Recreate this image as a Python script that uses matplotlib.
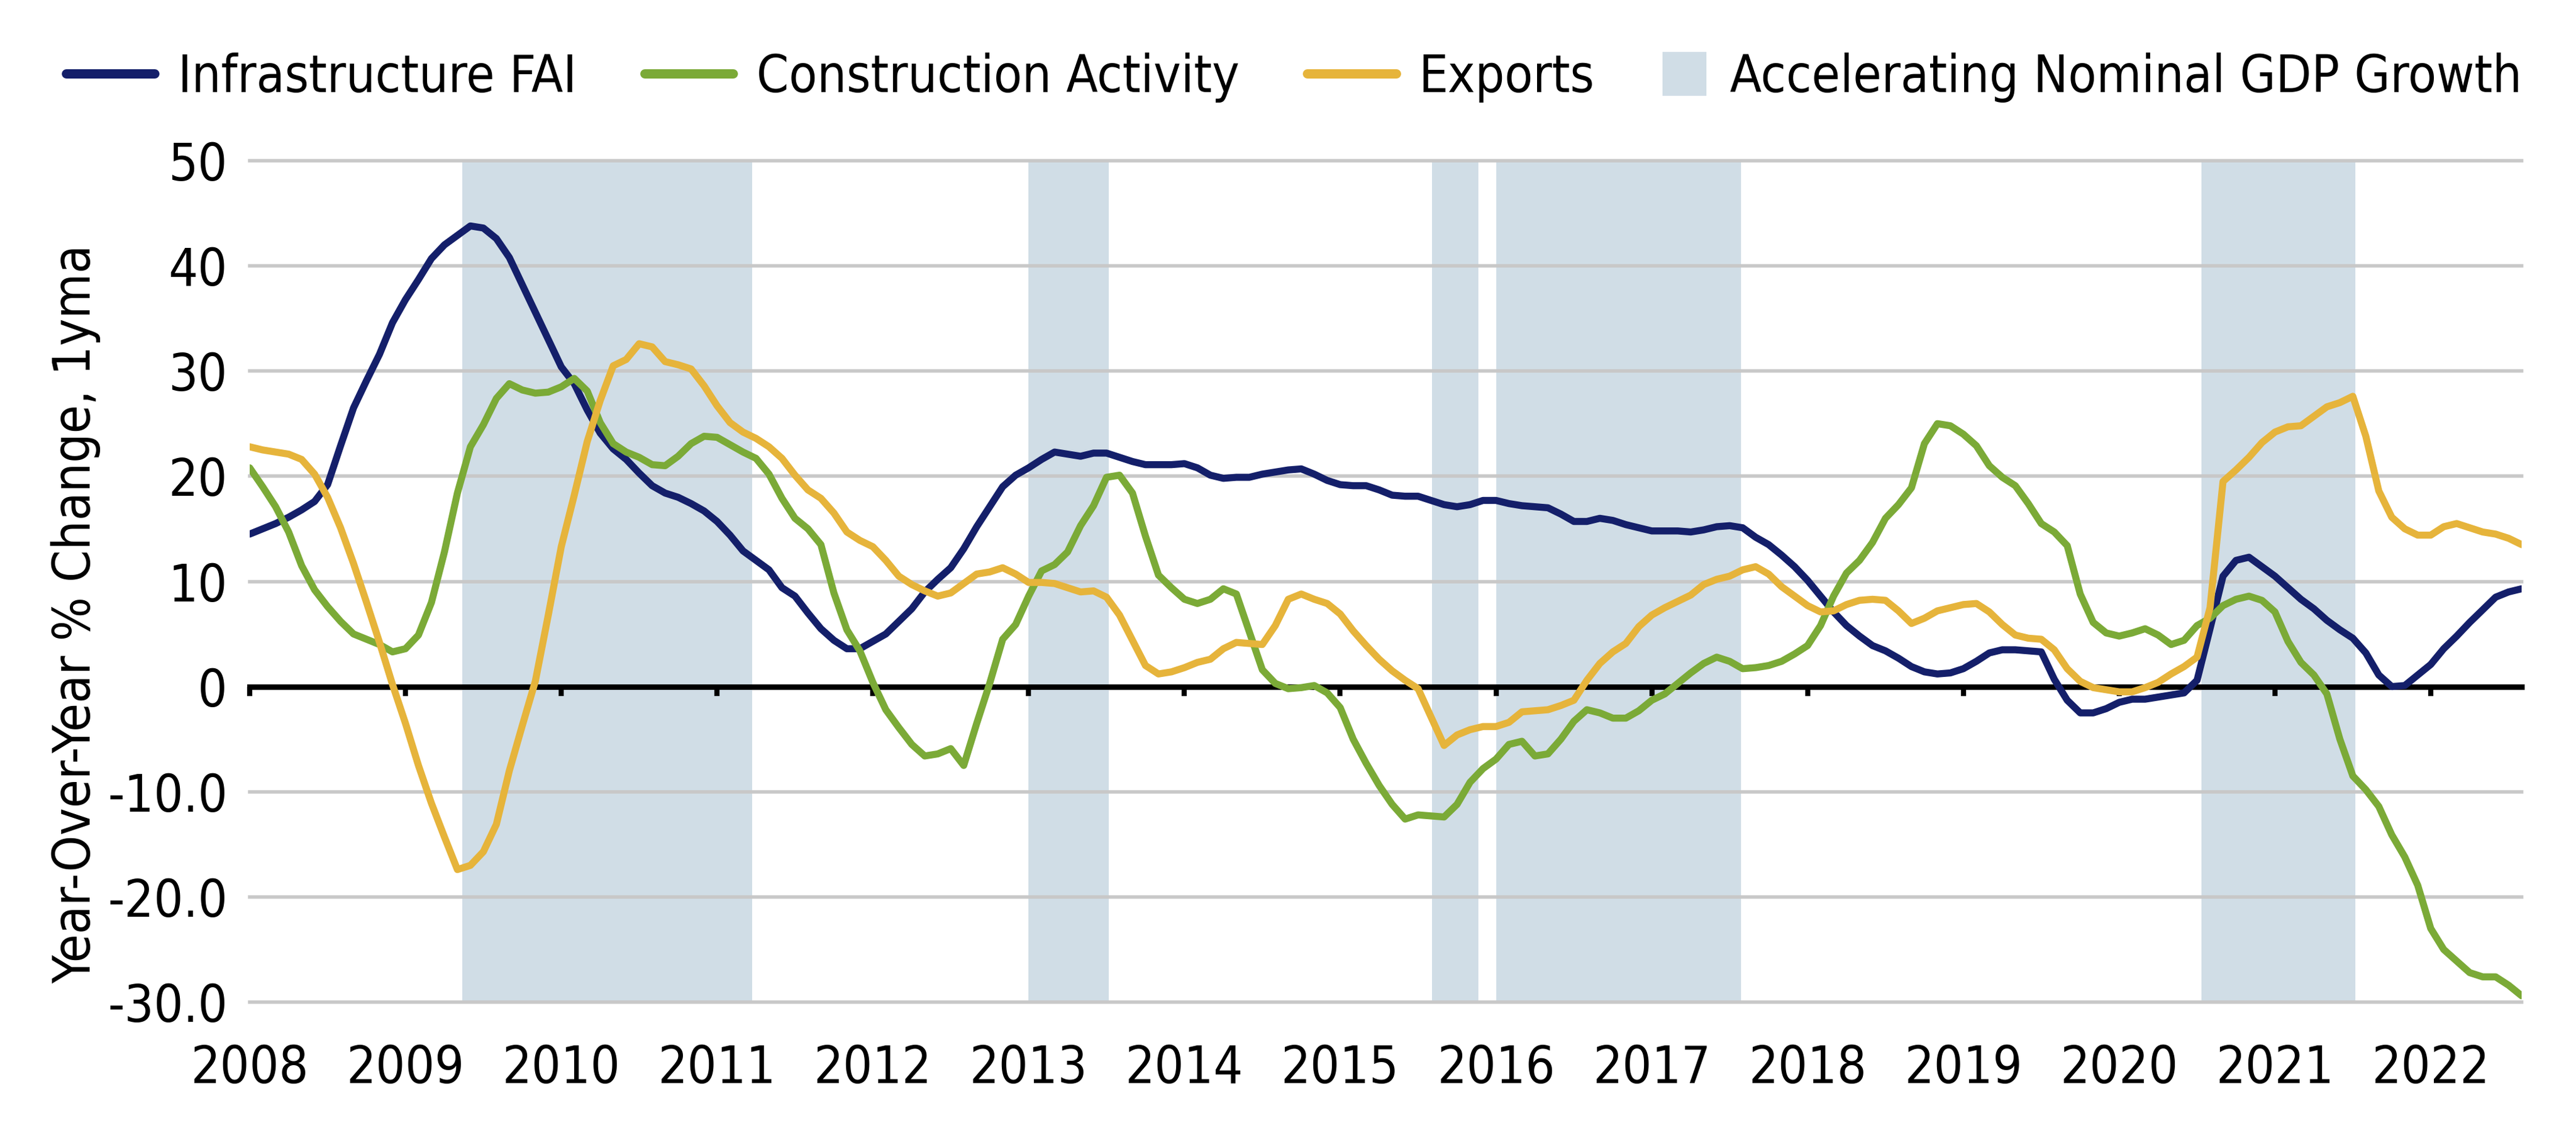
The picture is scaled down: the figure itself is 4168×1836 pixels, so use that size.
import numpy as np
import matplotlib.pyplot as plt
from matplotlib import font_manager as fm
from matplotlib.lines import Line2D
from matplotlib.patches import Patch, Rectangle

# look for a narrow / condensed sans face, the reference uses one
narrow = [f for f in fm.fontManager.ttflist
          if ('Narrow' in f.name or 'Condensed' in f.name or 'condensed' in str(f.stretch))
          and f.weight in (400, 'normal', 'regular') and f.style == 'normal']
if narrow:
    plt.rcParams['font.family'] = [narrow[0].name, 'DejaVu Sans']
    plt.rcParams['font.stretch'] = narrow[0].stretch
    fs = 30
else:
    plt.rcParams['font.family'] = ['DejaVu Sans']
    fs = 27

# monthly values, Jan 2008 .. Aug 2022 (yoy % change, 1yma)
infra = [14.5, 15.0, 15.5, 16.1, 16.8, 17.6, 19.2, 22.9, 26.5, 29.1, 31.6, 34.6,
         36.8, 38.7, 40.7, 42.0, 42.9, 43.8, 43.6, 42.6, 40.8, 38.2, 35.6, 33.0,
         30.4, 28.8, 26.3, 24.1, 22.6, 21.6, 20.3, 19.1, 18.4, 18.0, 17.4, 16.7,
         15.7, 14.4, 12.9, 12.0, 11.1, 9.4, 8.6, 7.0, 5.5, 4.4, 3.6, 3.6,
         4.3, 5.0, 6.2, 7.4, 9.0, 10.2, 11.3, 13.1, 15.2, 17.1, 19.0, 20.1,
         20.8, 21.6, 22.3, 22.1, 21.9, 22.2, 22.2, 21.8, 21.4, 21.1, 21.1, 21.1,
         21.2, 20.8, 20.1, 19.8, 19.9, 19.9, 20.2, 20.4, 20.6, 20.7, 20.2, 19.6,
         19.2, 19.1, 19.1, 18.7, 18.2, 18.1, 18.1, 17.7, 17.3, 17.1, 17.3, 17.7,
         17.7, 17.4, 17.2, 17.1, 17.0, 16.4, 15.7, 15.7, 16.0, 15.8, 15.4, 15.1,
         14.8, 14.8, 14.8, 14.7, 14.9, 15.2, 15.3, 15.1, 14.2, 13.5, 12.5, 11.4,
         10.1, 8.6, 7.1, 5.8, 4.8, 3.9, 3.4, 2.7, 1.9, 1.4, 1.2, 1.3,
         1.7, 2.4, 3.2, 3.5, 3.5, 3.4, 3.3, 0.7, -1.3, -2.5, -2.5, -2.1,
         -1.5, -1.2, -1.2, -1.0, -0.8, -0.6, 0.6, 5.5, 10.5, 12.0, 12.3, 11.4,
         10.5, 9.4, 8.3, 7.4, 6.3, 5.4, 4.6, 3.2, 1.1, 0.0, 0.1, 1.1,
         2.1, 3.6, 4.8, 6.1, 7.3, 8.5, 9.0, 9.3]

construction = [20.8, 19.0, 17.1, 14.7, 11.5, 9.2, 7.6, 6.2, 5.0, 4.5, 4.0, 3.3,
                3.6, 4.9, 8.0, 12.8, 18.4, 22.8, 24.9, 27.4, 28.8, 28.2, 27.9, 28.0,
                28.5, 29.3, 28.1, 25.1, 23.1, 22.3, 21.8, 21.1, 21.0, 21.9, 23.1, 23.8,
                23.7, 23.0, 22.3, 21.7, 20.2, 17.9, 16.0, 15.0, 13.5, 8.9, 5.4, 3.4,
                0.4, -2.2, -3.9, -5.5, -6.6, -6.4, -5.9, -7.5, -3.5, 0.3, 4.5, 5.9,
                8.6, 11.0, 11.6, 12.8, 15.3, 17.2, 19.9, 20.1, 18.4, 14.3, 10.6, 9.4,
                8.3, 7.9, 8.3, 9.3, 8.8, 5.2, 1.6, 0.3, -0.2, -0.1, 0.1, -0.6,
                -2.0, -5.0, -7.3, -9.4, -11.2, -12.6, -12.2, -12.3, -12.4, -11.2, -9.1, -7.8,
                -6.9, -5.5, -5.2, -6.6, -6.4, -5.0, -3.3, -2.2, -2.5, -3.0, -3.0, -2.3,
                -1.3, -0.7, 0.3, 1.3, 2.2, 2.8, 2.4, 1.7, 1.8, 2.0, 2.4, 3.1,
                3.9, 5.8, 8.6, 10.8, 12.0, 13.7, 16.0, 17.3, 18.9, 23.1, 25.0, 24.8,
                24.0, 22.9, 21.0, 19.9, 19.1, 17.4, 15.5, 14.7, 13.4, 8.8, 6.1, 5.1,
                4.8, 5.1, 5.5, 4.9, 4.0, 4.4, 5.8, 6.5, 7.7, 8.3, 8.6, 8.2,
                7.1, 4.3, 2.3, 1.1, -0.7, -5.0, -8.5, -9.8, -11.4, -14.1, -16.2, -18.9,
                -23.0, -25.0, -26.1, -27.2, -27.6, -27.6, -28.4, -29.4]

exports = [22.8, 22.5, 22.3, 22.1, 21.6, 20.2, 18.0, 15.1, 11.7, 8.0, 4.2, 0.2,
           -3.5, -7.5, -11.1, -14.3, -17.4, -17.0, -15.7, -13.1, -8.0, -3.7, 0.5, 6.8,
           13.3, 18.2, 23.3, 27.2, 30.5, 31.1, 32.6, 32.3, 30.9, 30.6, 30.2, 28.6,
           26.7, 25.1, 24.2, 23.6, 22.8, 21.7, 20.1, 18.7, 17.9, 16.5, 14.7, 13.9,
           13.3, 12.0, 10.5, 9.7, 9.1, 8.6, 8.9, 9.8, 10.7, 10.9, 11.3, 10.7,
           9.9, 9.9, 9.8, 9.4, 9.0, 9.1, 8.5, 6.8, 4.4, 2.0, 1.2, 1.4,
           1.8, 2.3, 2.6, 3.6, 4.2, 4.1, 4.0, 5.8, 8.3, 8.8, 8.3, 7.9,
           6.9, 5.3, 3.9, 2.6, 1.5, 0.6, -0.2, -2.9, -5.6, -4.6, -4.1, -3.8,
           -3.8, -3.4, -2.4, -2.3, -2.2, -1.8, -1.3, 0.6, 2.2, 3.3, 4.1, 5.7,
           6.8, 7.5, 8.1, 8.7, 9.7, 10.2, 10.5, 11.1, 11.4, 10.7, 9.5, 8.6,
           7.7, 7.1, 7.2, 7.8, 8.2, 8.3, 8.2, 7.2, 6.0, 6.5, 7.2, 7.5,
           7.8, 7.9, 7.1, 5.9, 4.9, 4.6, 4.5, 3.5, 1.7, 0.5, -0.1, -0.3,
           -0.5, -0.5, -0.1, 0.4, 1.2, 1.9, 2.8, 7.5, 19.5, 20.6, 21.8, 23.2,
           24.2, 24.7, 24.8, 25.7, 26.6, 27.0, 27.6, 23.8, 18.6, 16.1, 15.0, 14.4,
           14.4, 15.2, 15.5, 15.1, 14.7, 14.5, 14.1, 13.5]

# periods of accelerating nominal GDP growth (fractional years)
accel_start = [2009.365, 2013.0, 2015.589, 2016.0, 2020.527]
accel_end = [2011.224, 2013.515, 2015.887, 2017.573, 2021.518]

years = list(range(2008, 2023))
yticks = [50, 40, 30, 20, 10, 0, -10, -20, -30]
ylabels = ['50', '40', '30', '20', '10', '0', '-10.0', '-20.0', '-30.0']

navy = '#141F6A'
green = '#7BAA37'
gold = '#E6B43B'
shade = '#D0DDE6'

x = 2008 + np.arange(len(infra)) / 12

W, H = 4168, 1836
fig = plt.figure(figsize=(W / 200, H / 200), dpi=200)
ax = fig.add_axes([404 / W, 1 - 1621 / H, 3676 / W, 1361 / H])

for s, e in zip(accel_start, accel_end):
    ax.axvspan(s, e, color=shade, lw=0, zorder=0)

ax.plot(x, infra, color=navy, lw=4.1, zorder=3, solid_capstyle='round', solid_joinstyle='round')
ax.plot(x, construction, color=green, lw=4.1, zorder=3, solid_capstyle='round', solid_joinstyle='round')
ax.plot(x, exports, color=gold, lw=4.1, zorder=3, solid_capstyle='round', solid_joinstyle='round')

ax.set_xlim(2008, x[-1])
ax.set_ylim(-30, 50)
ax.set_yticks(yticks)
ax.set_yticklabels(ylabels)
ax.grid(axis='y', color='#C8C8C8', lw=2)
for gl in ax.get_ygridlines():
    gl.set_clip_on(False)

for side in ['top', 'right', 'left']:
    ax.spines[side].set_visible(False)
ax.spines['bottom'].set_position(('data', 0))
ax.spines['bottom'].set_color('black')
ax.spines['bottom'].set_linewidth(3.2)
ax.spines['bottom'].set_zorder(2.5)

ax.set_xticks(years)
ax.tick_params(axis='x', direction='out', length=5.5, width=3, color='black', labelbottom=False)
ax.tick_params(axis='y', length=0, pad=13, labelsize=fs)

sec = ax.secondary_xaxis('bottom')
sec.set_xticks(years)
sec.set_xticklabels([str(y) for y in years])
sec.tick_params(length=0, pad=24, labelsize=fs)
sec.spines['bottom'].set_visible(False)

ax.set_ylabel('Year-Over-Year % Change, 1yma', fontsize=fs)
ax.yaxis.set_label_coords(-0.0655, 0.461)


class SquareHandler:
    def legend_artist(self, legend, orig_handle, fontsize, handlebox):
        side = 0.85 * fontsize
        y0 = -handlebox.ydescent + (handlebox.height - side) / 2
        r = Rectangle((-handlebox.xdescent, y0), side, side,
                      facecolor=orig_handle.get_facecolor(), lw=0)
        handlebox.add_artist(r)
        handlebox.width = side
        return r


handles = [Line2D([], [], color=navy, lw=5.4, solid_capstyle='round'),
           Line2D([], [], color=green, lw=5.4, solid_capstyle='round'),
           Line2D([], [], color=gold, lw=5.4, solid_capstyle='round'),
           Patch(facecolor=shade)]
labels = ['Infrastructure FAI', 'Construction Activity', 'Exports',
          'Accelerating Nominal GDP Growth']
fig.legend(handles, labels, loc='center left', bbox_to_anchor=(107 / W, 1 - 125 / H),
           ncol=4, frameon=False, fontsize=fs, handlelength=1.72, handletextpad=0.45,
           columnspacing=1.32, borderpad=0, borderaxespad=0,
           handler_map={Patch: SquareHandler()})

fig.savefig('out.png', dpi=200)
